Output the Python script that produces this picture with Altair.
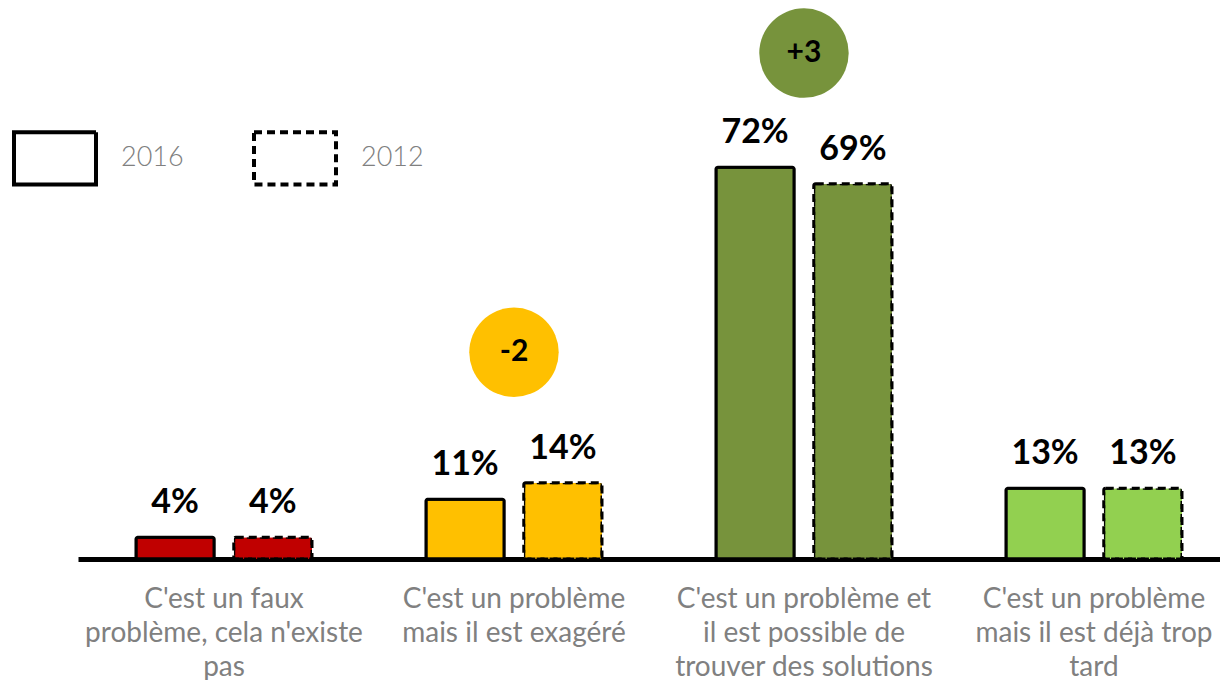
import altair as alt
import pandas as pd

categories = [
    "C'est un faux\nproblème, cela n'existe\npas",
    "C'est un problème\nmais il est exagéré",
    "C'est un problème et\nil est possible de\ntrouver des solutions",
    "C'est un problème\nmais il est déjà trop\ntard",
]
years = ["2016", "2012"]
values_2016 = [4, 11, 72, 13]
values_2012 = [4, 14, 69, 13]
colors = ["#C00000", "#FFC000", "#77933C", "#92D050"]
bubble_text = ["", "-2", "+3", ""]
bubble_y = [None, 38, 93, None]

rows = []
for c, v16, v12 in zip(categories, values_2016, values_2012):
    rows.append({"cat": c, "year": "2016", "value": v16, "label": f"{v16}%"})
    rows.append({"cat": c, "year": "2012", "value": v12, "label": f"{v12}%"})
df = pd.DataFrame(rows)

bdf = pd.DataFrame(
    [{"cat": c, "txt": t, "by": y} for c, t, y in zip(categories, bubble_text, bubble_y) if t]
)

FONT = "Lato"

x_enc = alt.X(
    "cat:N",
    sort=categories,
    scale=alt.Scale(paddingInner=0.393, paddingOuter=0.1655, align=0.604),
    axis=alt.Axis(
        title=None,
        labelAngle=0,
        ticks=False,
        domainWidth=5,
        domainColor="black",
        labelExpr="split(datum.label, '\\n')",
        labelFont=FONT,
        labelFontSize=28,
        labelColor="#808080",
        labelLineHeight=34,
        labelPadding=26,
        labelLimit=400,
        labelBaseline="top",
    ),
)
xoff = alt.XOffset("year:N", sort=years, scale=alt.Scale(paddingInner=0.2, paddingOuter=0))
y_scale = alt.Scale(domain=[0, 100], nice=False, zero=True)
color_enc = alt.Color("cat:N", sort=categories, scale=alt.Scale(domain=categories, range=colors), legend=None)

bars = alt.Chart(df).mark_bar(stroke="black", strokeWidth=3, cornerRadius=2).encode(
    x=x_enc,
    xOffset=xoff,
    y=alt.Y("value:Q", scale=y_scale, axis=None),
    color=color_enc,
    strokeDash=alt.StrokeDash(
        "year:N",
        sort=years,
        scale=alt.Scale(domain=years, range=[[1, 0], [8, 5]]),
        legend=alt.Legend(
            title=None,
            orient="none",
            direction="horizontal",
            legendX=-66,
            legendY=100,
            symbolType="M-1,-0.64H1V0.64H-1Z",
            symbolSize=6724,
            symbolStrokeWidth=4,
            symbolFillColor="white",
            symbolStrokeColor="black",
            labelFont=FONT,
            labelFontSize=27,
            labelFontWeight=300,
            labelColor="#808080",
            labelOffset=23,
            columnPadding=62,
        ),
    ),
)

labels = alt.Chart(df).mark_text(
    font=FONT, fontSize=34, fontWeight="bold", color="black", baseline="alphabetic", dy=-24
).encode(
    x=alt.X("cat:N", sort=categories),
    xOffset=xoff,
    y=alt.Y("value:Q", scale=y_scale),
    text="label:N",
)

bubbles = alt.Chart(bdf).mark_circle(size=8000, opacity=1).encode(
    x=alt.X("cat:N", sort=categories),
    y=alt.Y("by:Q", scale=y_scale),
    color=color_enc,
)

btext = alt.Chart(bdf).mark_text(
    font=FONT, fontSize=30, fontWeight="bold", color="black", baseline="middle"
).encode(
    x=alt.X("cat:N", sort=categories),
    y=alt.Y("by:Q", scale=y_scale),
    text="txt:N",
)

chart = (
    alt.layer(bars, labels, bubbles, btext)
    .properties(
        width=1142,
        height=544,
        autosize=alt.AutoSizeParams(type="none"),
        padding={"left": 70, "top": 7, "right": 0, "bottom": 121},
    )
    .configure_view(stroke=None)
)

chart.save("out.html", embed_options={"renderer": "svg", "actions": False})
